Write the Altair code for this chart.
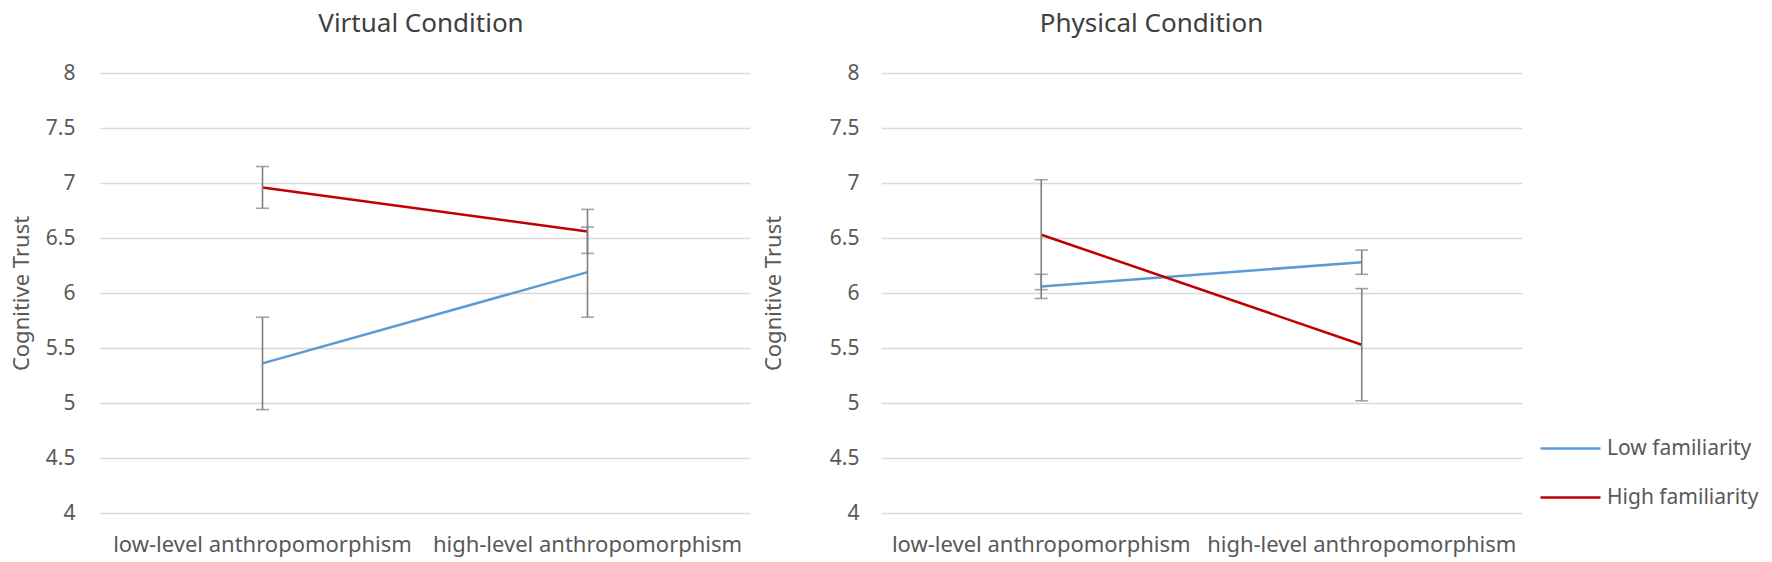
import altair as alt
import pandas as pd

FONT = "Noto Sans"
levels = ["low-level anthropomorphism", "high-level anthropomorphism"]
groups = ["Low familiarity", "High familiarity"]
colors = ["#5B9BD5", "#C00000"]

virtual_low = [5.36, 6.19]
virtual_low_err = [0.42, 0.41]
virtual_high = [6.96, 6.56]
virtual_high_err = [0.19, 0.20]

physical_low = [6.06, 6.28]
physical_low_err = [0.11, 0.11]
physical_high = [6.53, 5.53]
physical_high_err = [0.50, 0.51]

y_ticks = [4, 4.5, 5, 5.5, 6, 6.5, 7, 7.5, 8]


def make_df(low, low_err, high, high_err):
    rows = []
    for g, vals, errs in [(groups[0], low, low_err), (groups[1], high, high_err)]:
        for lv, v, e in zip(levels, vals, errs):
            rows.append({"level": lv, "group": g, "value": v, "lo": v - e, "hi": v + e})
    return pd.DataFrame(rows)


def panel(df, title, title_offset, title_dx, height, width, label_pad, title_padding):
    x = alt.X("level:N", sort=levels, scale=alt.Scale(domain=levels),
              axis=alt.Axis(title=None, labelAngle=0, ticks=False, domain=False,
                            labelPadding=21, labelFontSize=22, labelColor="#595959",
                            labelFont=FONT, grid=False, labelLimit=0))
    yaxis = alt.Axis(values=y_ticks, format="~g", title="Cognitive Trust", ticks=False, domain=False,
                     labelPadding=label_pad, labelFontSize=21, labelColor="#595959", labelFont=FONT,
                     titleFont=FONT, titleFontSize=22, titleColor="#595959", titleFontWeight="normal",
                     titlePadding=title_padding, minExtent=55, maxExtent=55,
                     gridColor="#D9D9D9", gridWidth=1.5)
    yscale = alt.Scale(domain=[4, 8], nice=False, zero=False)
    base = alt.Chart(df)
    lines = base.mark_line(strokeWidth=2.5).encode(
        x=x,
        y=alt.Y("value:Q", scale=yscale, axis=yaxis),
        color=alt.Color("group:N", scale=alt.Scale(domain=groups, range=colors),
                        legend=alt.Legend(title=None)),
        detail="group:N",
    )
    rules = base.mark_rule(color="#7F7F7F", strokeWidth=1.6).encode(
        x=x, y=alt.Y("lo:Q", scale=yscale, axis=yaxis), y2="hi:Q")
    cap_lo = base.mark_tick(color="#7F7F7F", thickness=1.6, size=13).encode(
        x=x, y=alt.Y("lo:Q", scale=yscale, axis=yaxis))
    cap_hi = base.mark_tick(color="#7F7F7F", thickness=1.6, size=13).encode(
        x=x, y=alt.Y("hi:Q", scale=yscale, axis=yaxis))
    return alt.layer(lines, rules, cap_lo, cap_hi).properties(
        width=width, height=height,
        title=alt.TitleParams(title, offset=title_offset, dx=title_dx, fontSize=26, font=FONT,
                              color="#404040", fontWeight="normal", frame="group"))


left = panel(make_df(virtual_low, virtual_low_err, virtual_high, virtual_high_err),
             "Virtual Condition", 25, -4, 440, 650, 25, 12)
right = panel(make_df(physical_low, physical_low_err, physical_high, physical_high_err),
              "Physical Condition", 25, -50, 440, 641, 22, 41)

chart = alt.hconcat(left, right, spacing=12).resolve_scale(color="shared").resolve_legend(
    color="shared"
).properties(
    padding={"left": 2, "top": 3, "right": 0, "bottom": 3}
).configure_view(stroke=None).configure_legend(
    orient="none", legendX=1439, legendY=344, symbolType="stroke", symbolSize=3600,
    symbolStrokeWidth=2.5, labelFontSize=21, labelFont=FONT, labelColor="#595959",
    labelOffset=5, rowPadding=7
)

chart.save("out.html", embed_options={"renderer": "svg", "actions": False})
